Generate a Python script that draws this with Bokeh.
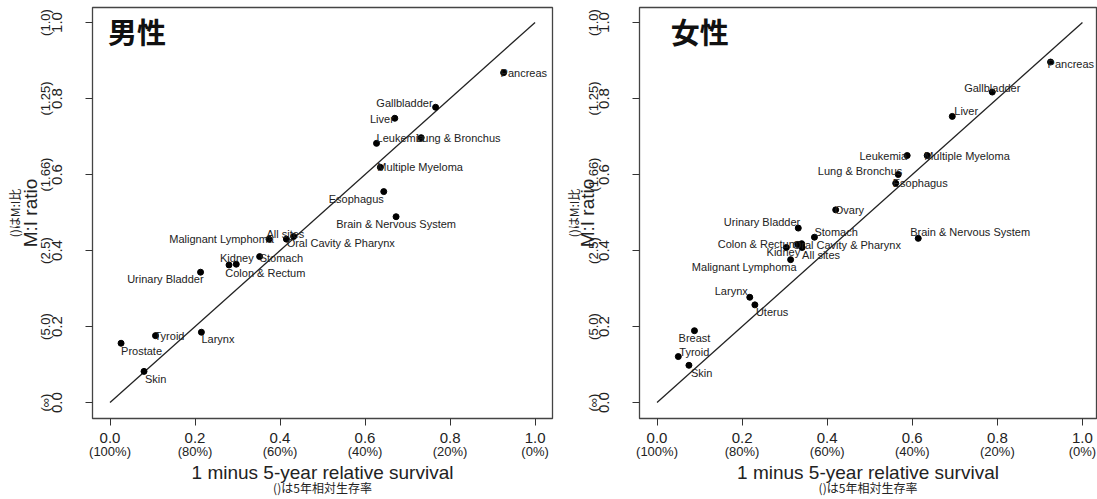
from bokeh.plotting import figure
from bokeh.layouts import row
from bokeh.models import ColumnDataSource, FixedTicker, LinearAxis, Range1d, Label
from bokeh.core.properties import value, field
from bokeh.embed import file_html
from bokeh.resources import INLINE

# ---------------- data ----------------
tick_values = [0.0, 0.2, 0.4, 0.6, 0.8, 1.0]
x_tick_labels = ["0.0", "0.2", "0.4", "0.6", "0.8", "1.0"]
x_tick_sub = ["(100%)", "(80%)", "(60%)", "(40%)", "(20%)", "(0%)"]
y_tick_labels = ["0.0", "0.2", "0.4", "0.6", "0.8", "1.0"]
y_tick_sub = ["(\u221e)", "(5.0)", "(2.5)", "(1.66)", "(1.25)", "(1.0)"]
diag = [0.0, 1.0]

male_sites = ["Pancreas", "Gallbladder", "Liver", "Leukemia", "Lung & Bronchus",
              "Multiple Myeloma", "Esophagus", "Brain & Nervous System",
              "Oral Cavity & Pharynx", "All sites", "Malignant Lymphoma", "Kidney",
              "Stomach", "Colon & Rectum", "Urinary Bladder", "Tyroid", "Larynx",
              "Prostate", "Skin"]
male_x = [0.926, 0.766, 0.670, 0.627, 0.732, 0.636, 0.644, 0.673, 0.432, 0.415,
          0.374, 0.280, 0.352, 0.297, 0.213, 0.107, 0.215, 0.026, 0.080]
male_y = [0.868, 0.777, 0.748, 0.682, 0.697, 0.619, 0.555, 0.489, 0.437, 0.430,
          0.430, 0.362, 0.384, 0.364, 0.343, 0.176, 0.185, 0.156, 0.082]

female_sites = ["Pancreas", "Gallbladder", "Liver", "Leukemia", "Multiple Myeloma",
                "Lung & Bronchus", "Esophagus", "Ovary", "Urinary Bladder", "Stomach",
                "Colon & Rectum", "Oral Cavity & Pharynx", "Kidney", "All sites",
                "Malignant Lymphoma", "Brain & Nervous System", "Larynx", "Uterus",
                "Breast", "Tyroid", "Skin"]
female_x = [0.925, 0.788, 0.694, 0.588, 0.635, 0.567, 0.561, 0.420, 0.332, 0.370,
            0.331, 0.340, 0.304, 0.341, 0.314, 0.614, 0.218, 0.230, 0.088, 0.050, 0.075]
female_y = [0.896, 0.817, 0.753, 0.650, 0.650, 0.600, 0.577, 0.507, 0.459, 0.435,
            0.416, 0.418, 0.408, 0.408, 0.376, 0.432, 0.277, 0.257, 0.189, 0.121, 0.098]

# label placement (screen px offsets from each point, and text alignment)
male_label_dx = [-3, -3, -1, 0, -5, -3, 0, 0, -7, -1, 5, -9, 0, -11, 3, -1, 0, 0, 1]
male_label_dy = [0, -4, 1, -5, 0, 0, 7, 7, 7, -5, 0, -7, 1, 9, 7, 0, 7, 8, 8]
male_label_align = ["left", "right", "right", "left", "left", "left", "right", "center",
                    "left", "center", "right", "left", "left", "left", "right", "left",
                    "left", "left", "left"]
female_label_dx = [-3, 0, 2, 0, -3, 4, -3, -1, 2, 0, 0, -9, -3, 0, 6, -8, -2, 1, 0, 1, 2]
female_label_dy = [2, -4, -5, 0, 0, -4, 0, 0, -6, -5, 0, 1, 5, 8, 7, -6, -6, 7, 7, -5, 8]
female_label_align = ["left", "center", "left", "right", "left", "right", "left", "left",
                      "right", "left", "right", "left", "center", "left", "right", "left",
                      "right", "left", "center", "left", "left"]

FONT = "Liberation Sans"
CJK = "Noto Sans CJK JP"
INK = "#222222"


def base_axis(ax, ticks):
    ax.ticker = FixedTicker(ticks=ticks, minor_ticks=[])
    ax.axis_line_color = None
    ax.major_tick_in = 0
    ax.minor_tick_in = 0
    ax.minor_tick_out = 0
    ax.minor_tick_line_color = None
    ax.major_tick_line_color = "#333333"
    ax.major_tick_line_width = 1
    ax.major_label_text_font = FONT
    ax.major_label_text_color = INK
    ax.axis_label_text_font = FONT
    ax.axis_label_text_color = INK
    ax.axis_label_text_font_style = "normal"
    return ax


def make_panel(title, title_x, sites, xs, ys, dxs, dys, aligns, width, left_border,
               right_border, x_end, ysub_lab_standoff, ylab_standoff, ysub_standoff):
    p = figure(width=width, height=499, output_backend="svg", toolbar_location=None,
               x_range=Range1d(-0.0412, x_end), y_range=Range1d(-0.042, 1.0395),
               x_axis_location=None, y_axis_location=None,
               min_border_left=left_border, min_border_right=right_border,
               min_border_top=7, min_border_bottom=81)
    p.grid.visible = False
    p.outline_line_color = "#444444"
    p.outline_line_width = 1.3
    p.background_fill_color = "white"
    p.border_fill_color = "white"

    # ---- x axes (stacked below) ----
    xa1 = base_axis(LinearAxis(), tick_values)
    xa1.major_label_overrides = dict(zip(tick_values, x_tick_labels))
    xa1.major_tick_out = 7
    xa1.major_label_standoff = 7
    xa1.major_label_text_font_size = "15px"
    p.add_layout(xa1, "below")

    xa2 = base_axis(LinearAxis(), tick_values)
    xa2.major_label_overrides = dict(zip(tick_values, x_tick_sub))
    xa2.major_tick_out = 0
    xa2.major_tick_line_color = None
    xa2.major_label_standoff = -2
    xa2.major_label_text_font_size = "13px"
    xa2.axis_label = "1 minus 5-year relative survival"
    xa2.axis_label_text_font_size = "19px"
    xa2.axis_label_standoff = 0
    p.add_layout(xa2, "below")

    xa3 = base_axis(LinearAxis(), [])
    xa3.major_tick_out = 0
    xa3.major_tick_line_color = None
    xa3.major_label_standoff = 0
    xa3.axis_label = "()は5年相対生存率"
    xa3.axis_label_text_font = CJK
    xa3.axis_label_text_font_size = "12px"
    xa3.axis_label_standoff = -7
    p.add_layout(xa3, "below")

    # ---- y axes (stacked left) ----
    ya1 = base_axis(LinearAxis(), tick_values)
    ya1.major_label_overrides = dict(zip(tick_values, y_tick_labels))
    ya1.major_tick_out = 7
    ya1.major_label_standoff = 23
    ya1.major_label_orientation = "vertical"
    ya1.major_label_text_font_size = "15px"
    p.add_layout(ya1, "left")

    ya2 = base_axis(LinearAxis(), tick_values)
    ya2.major_label_overrides = dict(zip(tick_values, y_tick_sub))
    ya2.major_tick_out = 0
    ya2.major_tick_line_color = None
    ya2.major_label_standoff = ysub_lab_standoff
    ya2.major_label_orientation = "vertical"
    ya2.major_label_text_font_size = "13px"
    ya2.axis_label = "M:I ratio"
    ya2.axis_label_text_font_size = "19px"
    ya2.axis_label_standoff = ylab_standoff
    p.add_layout(ya2, "left")

    ya3 = base_axis(LinearAxis(), [])
    ya3.major_tick_out = 0
    ya3.major_tick_line_color = None
    ya3.major_label_standoff = 0
    ya3.axis_label = "()はM:I比"
    ya3.axis_label_text_font = CJK
    ya3.axis_label_text_font_size = "12px"
    ya3.axis_label_standoff = ysub_standoff
    p.add_layout(ya3, "left")

    # ---- reference line ----
    p.line(x=diag, y=diag, line_color="#222222", line_width=1.3)

    # ---- points & labels ----
    src = ColumnDataSource(dict(x=xs, y=ys, name=sites, dx=dxs, dy=dys, align=aligns))
    p.scatter(x="x", y="y", source=src, size=6, fill_color="black", line_color="black")
    p.text(x="x", y="y", text="name", source=src, x_offset=field("dx"), y_offset=field("dy"),
           text_align=field("align"), text_baseline="middle",
           text_font=value(FONT), text_font_size="11px", text_color=INK)

    p.add_layout(Label(x=title_x, y=1.032, text=title, text_font=CJK, text_font_size="29px",
                       text_font_style="bold", text_baseline="top", text_align="left",
                       text_color="#111111"))
    return p


p1 = make_panel("男性", -0.005, male_sites, male_x, male_y, male_label_dx, male_label_dy,
                male_label_align, 560, 92, 8, 1.041, -4, -5, -6)
p2 = make_panel("女性", 0.032, female_sites, female_x, female_y, female_label_dx,
                female_label_dy, female_label_align, 537, 79, 1, 1.033, -5, -14, -8)

layout = row(p1, p2)
open("out.html", "w").write(file_html(layout, INLINE))
